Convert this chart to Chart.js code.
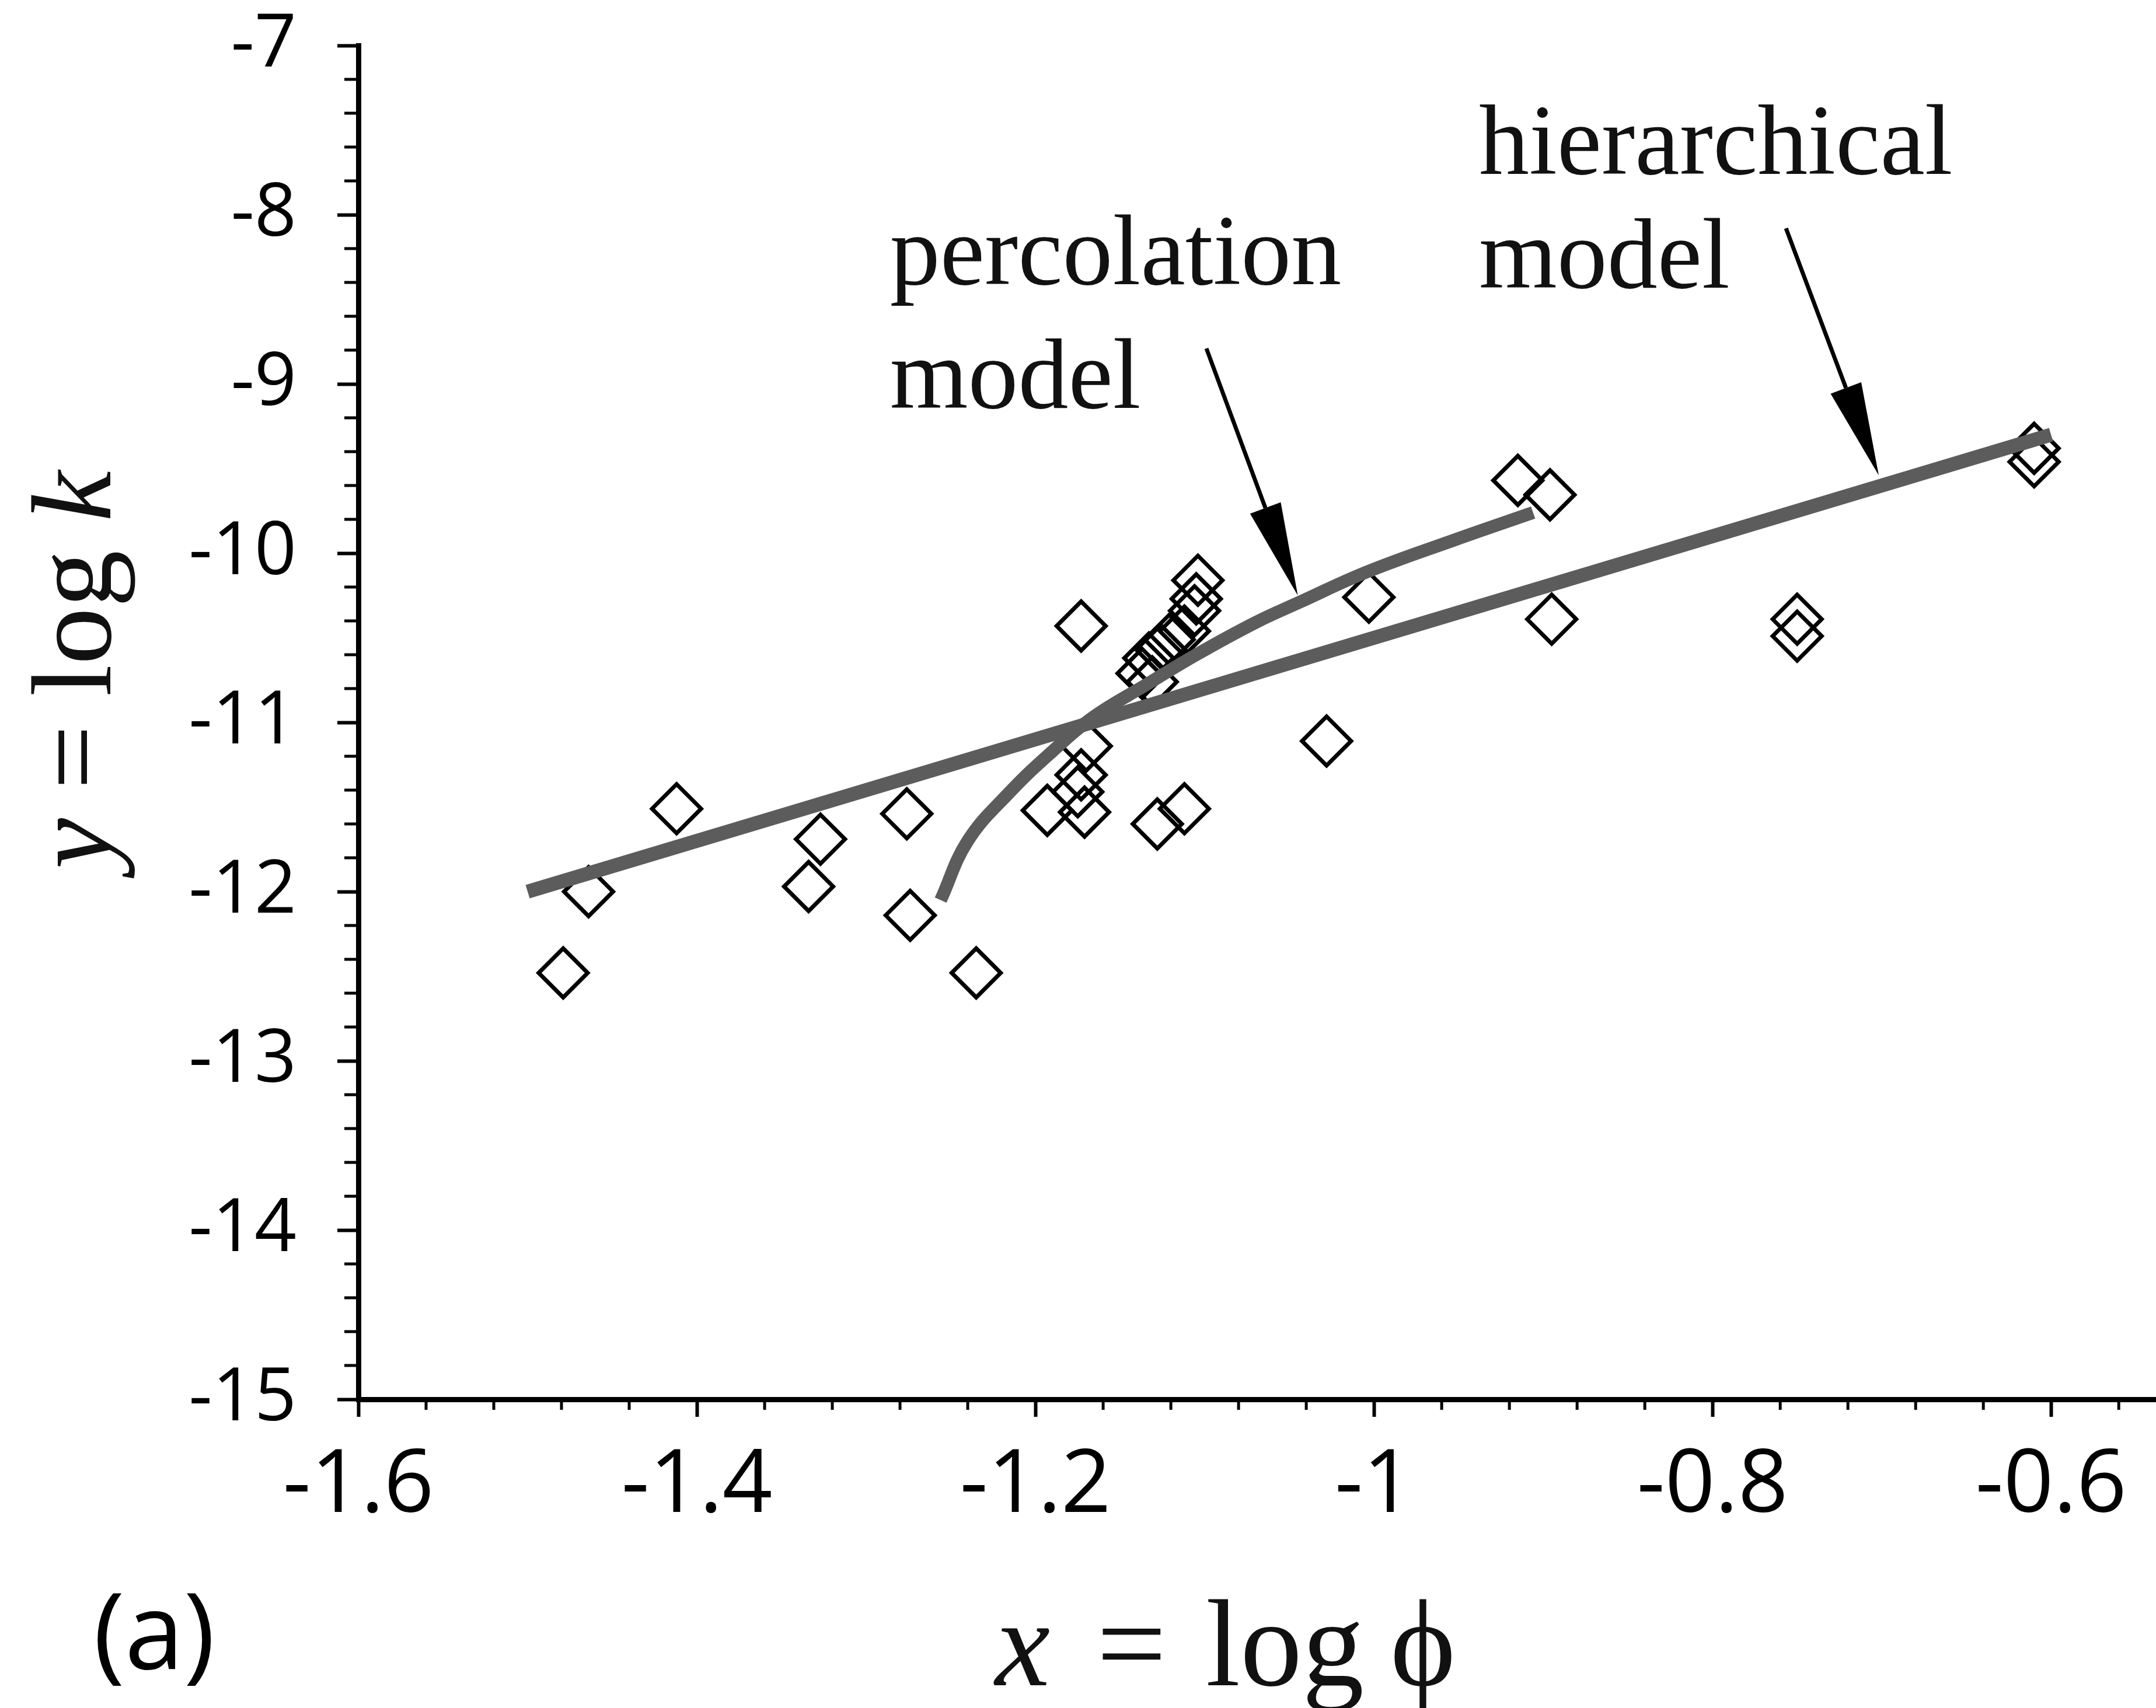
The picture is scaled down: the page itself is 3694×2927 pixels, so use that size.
<!DOCTYPE html>
<html>
<head>
<meta charset="utf-8">
<script src="https://cdn.jsdelivr.net/npm/chart.js@4.4.0/dist/chart.umd.min.js"></script>
<style>
  html, body { margin: 0; padding: 0; background: #fff; }
  #wrap { width: 3694px; height: 2927px; }
</style>
</head>
<body>
<div id="wrap"><canvas id="chart" width="3694" height="2927"></canvas></div>
<script>
// measured samples (diamonds)
const sampleX = [-1.479, -1.464, -1.412, -1.334, -1.327, -1.276, -1.274, -1.235,
  -1.193, -1.171, -1.175, -1.173, -1.170, -1.173, -1.128, -1.112,
  -1.104, -1.105, -1.106, -1.112, -1.121, -1.126, -1.133, -1.137, -1.131,
  -1.028, -1.003, -0.915, -0.896, -0.895, -0.750, -0.750, -0.610, -0.610];
const sampleY = [-12.48, -12.00, -11.51, -11.97, -11.69, -11.54, -12.14, -12.48,
  -11.52, -11.53, -11.41, -11.31, -11.14, -10.43, -11.60, -11.51,
  -10.16, -10.27, -10.34, -10.46, -10.51, -10.57, -10.62, -10.71, -10.76,
  -11.11, -10.26, -9.57, -9.655, -10.39, -10.39, -10.49, -9.38, -9.46];

// percolation model curve
const percX = [-1.256, -1.240, -1.215, -1.191, -1.166, -1.135, -1.105, -1.070, -1.044, -1.004, -0.952, -0.906];
const percY = [-12.05, -11.70, -11.41, -11.18, -10.97, -10.78, -10.60, -10.41, -10.29, -10.11, -9.92, -9.76];

// hierarchical model line
const hierX = [-1.5, -0.6];
const hierY = [-12.0, -9.3];

// axes
const xTicks = [-1.6, -1.4, -1.2, -1, -0.8, -0.6];
const yTicks = [-15, -14, -13, -12, -11, -10, -9, -8, -7];
const xMin = -1.6, xMax = -0.538;
const yMin = -15, yMax = -7;

const toPts = (xs, ys) => xs.map((x, i) => ({ x: x, y: ys[i] }));
const fmt = v => String(Math.round(v * 10) / 10);

const INK = '#000';
const LINE = '#5c5c5c';
const SERIF = '"Liberation Serif", "DejaVu Serif", serif';
const SANS = '"Open Sans", "Noto Sans", sans-serif';

// annotations: label text and arrows in data coordinates
const notes = [
  { text: 'hierarchical', x: -0.938, y: -7.76 },
  { text: 'model', x: -0.938, y: -8.43 },
  { text: 'percolation', x: -1.286, y: -8.41 },
  { text: 'model', x: -1.286, y: -9.14 }
];
const arrows = [
  { from: [-1.099, -8.79], to: [-1.045, -10.25] },
  { from: [-0.7566, -8.08], to: [-0.7018, -9.54] }
];

function drawRich(ctx, parts, x, y) {
  let cx = x;
  parts.forEach(p => {
    ctx.font = p.f;
    ctx.fillText(p.t, cx + (p.dx || 0), y);
    cx += ctx.measureText(p.t).width + (p.dx || 0);
  });
}

const decor = {
  id: 'decor',
  afterDraw(chart) {
    const ctx = chart.ctx;
    const xs = chart.scales.x, ys = chart.scales.y;
    const area = chart.chartArea;
    ctx.save();
    ctx.strokeStyle = INK;
    ctx.fillStyle = INK;

    // minor ticks
    ctx.lineWidth = 5;
    for (let i = 1; i * 0.04 + xMin < xMax; i++) {
      if (i % 5 === 0) continue;
      const px = xs.getPixelForValue(xMin + i * 0.04);
      ctx.beginPath();
      ctx.moveTo(px, area.bottom);
      ctx.lineTo(px, area.bottom + 18);
      ctx.stroke();
    }
    for (let i = 1; i * 0.2 + yMin < yMax; i++) {
      if (i % 5 === 0) continue;
      const py = ys.getPixelForValue(yMin + i * 0.2);
      ctx.beginPath();
      ctx.moveTo(area.left, py);
      ctx.lineTo(area.left - 24, py);
      ctx.stroke();
    }

    // annotation text
    ctx.fillStyle = '#111';
    ctx.font = '172px ' + SERIF;
    ctx.textAlign = 'left';
    ctx.textBaseline = 'alphabetic';
    notes.forEach(n => ctx.fillText(n.text, xs.getPixelForValue(n.x), ys.getPixelForValue(n.y)));

    // arrows
    ctx.strokeStyle = INK;
    ctx.fillStyle = INK;
    arrows.forEach(a => {
      const x0 = xs.getPixelForValue(a.from[0]), y0 = ys.getPixelForValue(a.from[1]);
      const x1 = xs.getPixelForValue(a.to[0]), y1 = ys.getPixelForValue(a.to[1]);
      const ang = Math.atan2(y1 - y0, x1 - x0);
      const headLen = 160, headW = 28;
      const bx = x1 - headLen * Math.cos(ang), by = y1 - headLen * Math.sin(ang);
      ctx.lineWidth = 7;
      ctx.beginPath();
      ctx.moveTo(x0, y0);
      ctx.lineTo(bx, by);
      ctx.stroke();
      ctx.beginPath();
      ctx.moveTo(x1, y1);
      ctx.lineTo(bx + headW * Math.sin(ang), by - headW * Math.cos(ang));
      ctx.lineTo(bx - headW * Math.sin(ang), by + headW * Math.cos(ang));
      ctx.closePath();
      ctx.fill();
    });

    // x axis title: x = log phi
    ctx.fillStyle = '#111';
    ctx.font = 'italic 212px ' + SERIF;
    ctx.fillText('x', 1705, 2888);
    ctx.font = '212px ' + SERIF;
    ctx.fillText('=', 1879, 2888);
    ctx.fillText('log', 2066, 2888);
    const phiW = ctx.measureText('\u03D5').width;
    ctx.fillText('\u03D5', 2438 - phiW / 2, 2888);

    // y axis title: y = log k (rotated)
    ctx.save();
    ctx.translate(189, 1148);
    ctx.rotate(-Math.PI / 2);
    const yParts = [
      { t: 'y', f: 'italic 196px ' + SERIF },
      { t: ' = log ', f: '196px ' + SERIF },
      { t: 'k', f: 'italic 196px ' + SERIF }
    ];
    let total = 0;
    yParts.forEach(p => { ctx.font = p.f; total += ctx.measureText(p.t).width; });
    drawRich(ctx, yParts, -total / 2, 0);
    ctx.restore();

    // panel label
    ctx.font = '182px ' + SANS;
    ctx.fillStyle = '#000';
    ctx.fillText('(a)', 160, 2860);
    ctx.restore();
  }
};

new Chart(document.getElementById('chart'), {
  data: {
    datasets: [
      {
        type: 'line',
        data: toPts(hierX, hierY),
        borderColor: LINE,
        borderWidth: 24,
        pointRadius: 0,
        borderCapStyle: 'butt',
        order: 0
      },
      {
        type: 'line',
        data: toPts(percX, percY),
        borderColor: LINE,
        borderWidth: 22,
        pointRadius: 0,
        tension: 0.4,
        borderCapStyle: 'butt',
        order: 0
      },
      {
        type: 'scatter',
        data: toPts(sampleX, sampleY),
        pointStyle: 'rectRot',
        pointRadius: 42,
        borderColor: INK,
        borderWidth: 7,
        backgroundColor: 'rgba(0,0,0,0)',
        order: 1
      }
    ]
  },
  options: {
    responsive: false,
    animation: false,
    devicePixelRatio: 1,
    layout: { autoPadding: false, padding: { top: 78, left: 0, right: 0, bottom: 0 } },
    plugins: { legend: { display: false }, tooltip: { enabled: false } },
    scales: {
      x: {
        type: 'linear',
        position: 'bottom',
        min: xMin,
        max: xMax,
        afterBuildTicks: s => { s.ticks = xTicks.map(v => ({ value: v })); },
        afterFit: s => { s.height = 529; s.paddingLeft = 0; s.paddingRight = 0; },
        ticks: {
          font: { family: SANS, size: 150 },
          color: '#000',
          padding: 30,
          maxRotation: 0,
          autoSkip: false,
          callback: v => fmt(v)
        },
        grid: { drawOnChartArea: false, drawTicks: true, tickLength: 30, tickWidth: 6, tickColor: INK },
        border: { display: true, color: INK, width: 9 }
      },
      y: {
        type: 'linear',
        min: yMin,
        max: yMax,
        afterBuildTicks: s => { s.ticks = yTicks.map(v => ({ value: v })); },
        afterFit: s => { s.width = 614; s.paddingTop = 0; s.paddingBottom = 0; },
        ticks: {
          font: { family: SANS, size: 126 },
          color: '#000',
          padding: 70,
          autoSkip: false,
          callback: v => String(v)
        },
        grid: { drawOnChartArea: false, drawTicks: true, tickLength: 36, tickWidth: 6, tickColor: INK },
        border: { display: true, color: INK, width: 9 }
      }
    }
  },
  plugins: [decor]
});
</script>
</body>
</html>
